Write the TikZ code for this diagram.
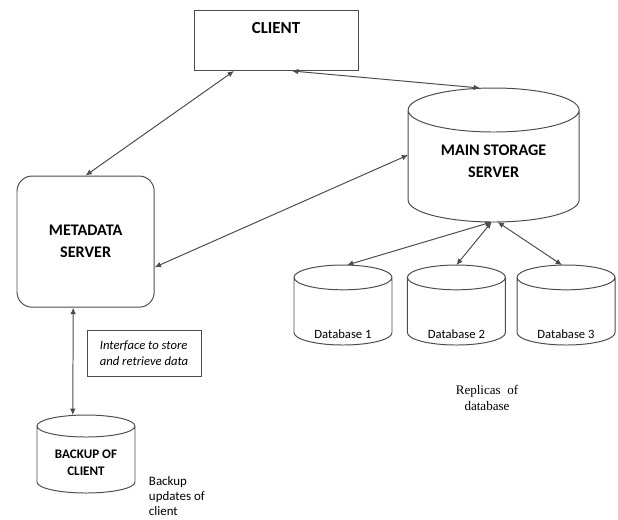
\documentclass[tikz,border=0pt]{standalone}
\usepackage{fontspec}
\setmainfont{Carlito}
\newfontfamily\replfont{Liberation Serif}
\usetikzlibrary{arrows.meta}
\usetikzlibrary{positioning}

\tikzset{
  line/.style={draw=black!70,line width=0.7pt},
  link/.style={line,{Latex[length=4.5pt,width=4pt]}-{Latex[length=4.5pt,width=4pt]}},
  bigtext/.style={font=\fontsize{11.5}{15.5}\selectfont\bfseries},
  smalltext/.style={font=\fontsize{9}{11}\selectfont},
  store/.style={rectangle,inner sep=0pt,outer sep=0pt,align=center},
}
% outline of a storage drum round a named node: name, x radius, cap radius
\newcommand{\drum}[3]{%
  \draw[line] ([yshift=-#3]#1.north west) -- ([yshift=#3]#1.south west)
    arc[start angle=180,end angle=360,x radius=#2,y radius=#3]
    -- ([yshift=-#3]#1.north east)
    arc[start angle=0,end angle=360,x radius=#2,y radius=#3];}

\begin{document}
\begin{tikzpicture}
\useasboundingbox (0,0) rectangle (15.45,-12.975);
% boxes
\node at (6.9,-0.25)[rectangle,line,anchor=north,minimum width=4.1cm,inner ysep=0pt,text height=0.575cm,text depth=0.925cm,font=\fontsize{12}{15.5}\selectfont\bfseries](client){CLIENT};
\node at (2.14,-6.04)[rectangle,line,rounded corners=0.38cm,minimum width=3.43cm,minimum height=3.28cm,align=center,bigtext](meta){METADATA\\SERVER};
\node at (3.6,-8.825)[rectangle,line,minimum width=2.85cm,minimum height=1.15cm,align=left,font=\fontsize{9}{11}\selectfont\itshape](iface){Interface to store\\and retrieve data};
% drums
\node at (12.34,-3.875)[store,minimum width=4.275cm,text height=2.225cm,text depth=1.125cm,bigtext](main){MAIN STORAGE\\SERVER};
\node at (8.575,-7.625)[store,minimum width=2.45cm,text height=1.825cm,text depth=0.175cm,smalltext](db1){Database 1};
\node at (11.41,-7.625)[store,minimum width=2.45cm,text height=1.825cm,text depth=0.175cm,smalltext](db2){Database 2};
\node at (14.15,-7.625)[store,minimum width=2.45cm,text height=1.825cm,text depth=0.175cm,smalltext](db3){Database 3};
\node at (2.15,-11.35)[store,minimum width=2.45cm,text height=1.5cm,text depth=0.45cm,font=\fontsize{9.3}{12}\selectfont\bfseries](backup){BACKUP OF\\CLIENT};
\drum{main}{2.1375cm}{0.55cm}
\drum{db1}{1.225cm}{0.31cm}
\drum{db2}{1.225cm}{0.31cm}
\drum{db3}{1.225cm}{0.31cm}
\drum{backup}{1.225cm}{0.275cm}
% notes
\node at (3.6,-11.79)[anchor=north west,align=left,font=\fontsize{9.2}{10.5}\selectfont](backupnote){Backup\\updates of\\client};
\node at (12.175,-9.95)[align=center,font=\fontsize{9.3}{11.4}\selectfont\replfont](repl){Replicas\ \ of\\database};
% links
\draw[link] ([xshift=-1.05cm]client.south) -- (meta.north);
\draw[link] ([xshift=0.4cm]client.south) -- ([xshift=-0.34cm]main.north);
\draw[link] (main.west) -- ([yshift=-0.64cm]meta.east);
\draw[link] ([xshift=-0.05cm]main.south) -- ([xshift=0.1cm]db1.north);
\draw[link] ([xshift=-0.05cm]main.south) -- (db2.north);
\draw[link] ([xshift=0.1cm]main.south) -- ([xshift=-0.1cm]db3.north);
\draw[link] ([xshift=-0.31cm]meta.south) -- ([xshift=-0.33cm]backup.north);
\end{tikzpicture}
\end{document}
